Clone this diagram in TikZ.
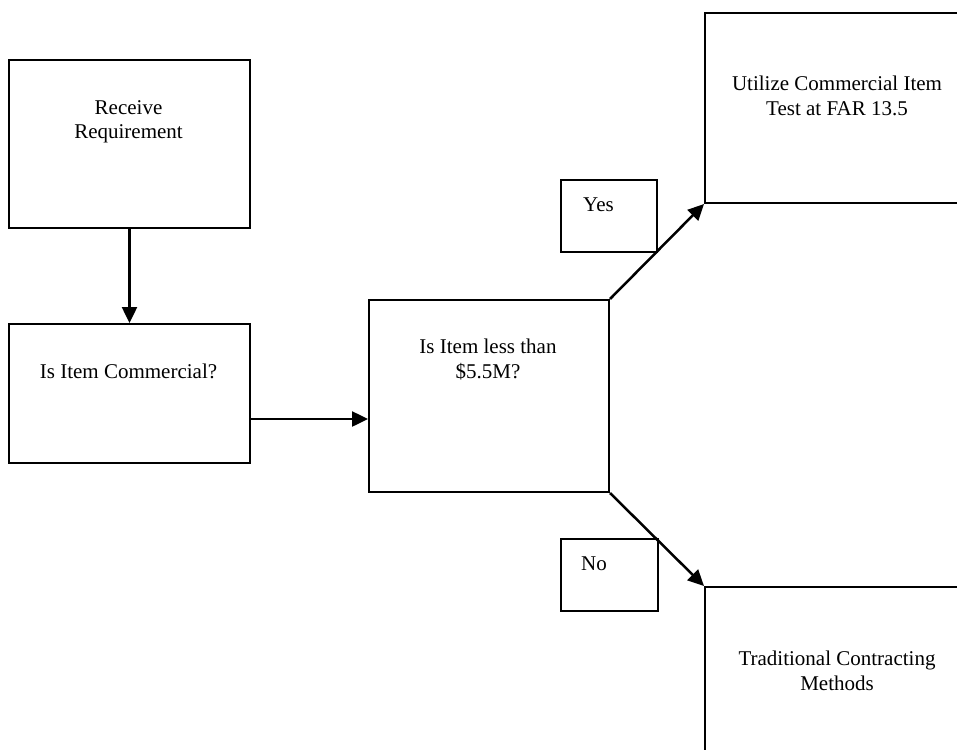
\documentclass[tikz,border=0pt]{standalone}
\usepackage{fontspec}
\setmainfont{Liberation Serif}
\usepackage{tikz}
\usetikzlibrary{positioning,arrows.meta}

\begin{document}
\begin{tikzpicture}[x=1pt,y=-1pt,
    box/.style={draw,line width=2pt,rectangle,anchor=north west,inner sep=0pt},
    txt/.style={align=center,inner sep=0pt,font=\fontsize{21}{24.5}\selectfont},
    arr/.style={line width=2.5pt,-{Triangle[length=16pt,width=15pt]}}]

\useasboundingbox (0,0) rectangle (957,749);
\clip (0,0) rectangle (957,749);

\node[box,minimum width=241pt,minimum height=168pt] (rcv) at (8,59) {};
\node[box,minimum width=241pt,minimum height=139pt] (com) at (8,323) {};
\node[box,minimum width=240pt,minimum height=192pt] (lim) at (368,299) {};
\node[box,minimum width=96pt,minimum height=72pt] (yes) at (560,179) {};
\node[box,minimum width=97pt,minimum height=72pt] (no) at (560,538) {};
\node[box,minimum width=266pt,minimum height=190pt] (far) at (704,12) {};
\node[box,minimum width=266pt,minimum height=200pt] (trad) at (704,586) {};

% two-line texts sit on the baseline of their last line
\node[txt,anchor=base] (rcvt) at (128.5,139) {Receive\\Requirement};
\node[txt,anchor=base] (comt) at (128.5,378) {Is Item Commercial?};
\node[txt,anchor=base] (limt) at (488,378) {Is Item less than\\\$5.5M?};
\node[txt,anchor=base west] (yest) at (583,211) {Yes};
\node[txt,anchor=base west] (not) at (581,570) {No};
\node[txt,anchor=base] (fart) at (837,115) {Utilize Commercial Item\\Test at FAR 13.5};
\node[txt,anchor=base] (tradt) at (837,690) {Traditional Contracting\\Methods};

\coordinate (h) at (0,419);
\draw[arr] (rcv.south) -- (com.north);
\draw[arr] (com.east |- h) -- (lim.west |- h);
\draw[arr] (lim.north east) -- (far.south west);
\draw[arr] (lim.south east) -- (trad.north west);
\end{tikzpicture}
\end{document}
